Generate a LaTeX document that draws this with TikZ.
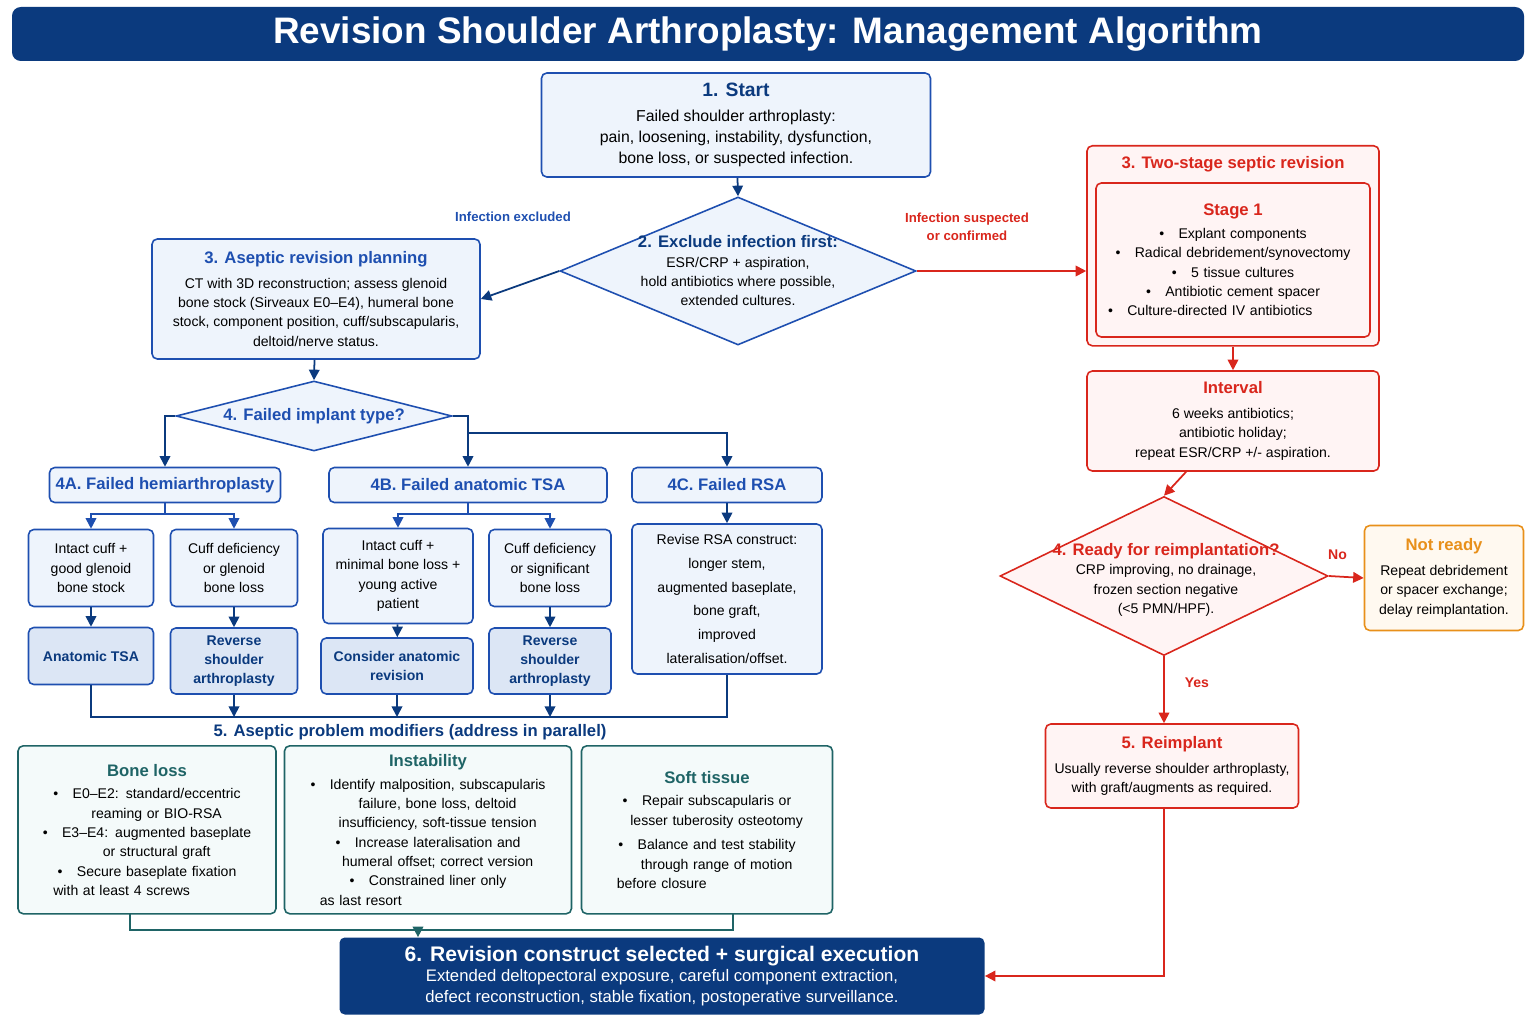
\documentclass[tikz,border=0pt]{standalone}
\usepackage{fontspec}
\setmainfont{Liberation Sans}
\usetikzlibrary{shapes.geometric,arrows.meta,calc}
\definecolor{navy}{HTML}{0B3A7E}
\definecolor{aseb}{HTML}{1E4FB0}
\definecolor{asef}{HTML}{EEF4FC}
\definecolor{ased}{HTML}{DCE6F5}
\definecolor{sepr}{HTML}{D9261C}
\definecolor{sepf}{HTML}{FFF4F4}
\definecolor{teal}{HTML}{1F6466}
\definecolor{tealf}{HTML}{F4FAFA}
\definecolor{orng}{HTML}{E8901A}
\definecolor{orngf}{HTML}{FFF9F0}
\newcommand{\bl}[1]{\makebox[11pt][l]{\textbullet}#1}
\newcommand{\cl}[1]{\hspace*{11pt}#1}
\newcommand{\hdf}{\fontsize{9.5}{12}\selectfont\bfseries}
\tikzset{
 sz/.style 2 args={minimum width=#1*0.02cm, minimum height=#2*0.02cm},
 box/.style={draw=aseb, fill=asef, rounded corners=3pt, line width=0.9pt, align=center, inner sep=2pt, font=\fontsize{8}{11}\selectfont},
 rbox/.style={box, draw=sepr, fill=sepf},
 tbox/.style={box, draw=teal, fill=tealf, align=left, anchor=north},
 dia/.style={diamond, draw=#1, line width=0.9pt, inner sep=0pt},
 arr/.style={draw=aseb, line width=1pt, -{Triangle[length=6pt,width=6pt]}},
 rarr/.style={arr, draw=sepr},
 tarr/.style={arr, draw=teal},
 hd/.style={font=\hdf},
}
\begin{document}
\begin{tikzpicture}[x=0.02cm,y=-0.02cm]
 \useasboundingbox (0,0) rectangle (1536,1024);
 % title bar
 \node[fill=navy, rounded corners=5pt, sz={1512}{54}, text=white, font=\fontsize{21}{24}\selectfont\bfseries] (title) at (768,34) {Revision Shoulder Arthroplasty: Management Algorithm};

 % aseptic branch
 \node[box, sz={389}{104}, font=\fontsize{9}{12}\selectfont] (start) at (736,125) {{\fontsize{11}{13}\selectfont\bfseries\color{navy}1. Start}\\[2pt]Failed shoulder arthroplasty:\\pain, loosening, instability, dysfunction,\\bone loss, or suspected infection.};
 \node[dia=aseb, fill=asef, sz={356}{148}] (dinf) at (738,271) {};
 \node[align=center, font=\fontsize{8}{11}\selectfont] (dinft) at (738,271) {{\hdf\color{navy}2. Exclude infection first:}\\ESR/CRP + aspiration,\\hold antibiotics where possible,\\extended cultures.};
 \node[text=aseb, font=\fontsize{7.5}{9}\selectfont\bfseries] (lexc) at (513,217) {Infection excluded};
 \node[text=sepr, font=\fontsize{7.5}{10.5}\selectfont\bfseries, align=center] (lsus) at (967,227) {Infection suspected\\or confirmed};
 \node[box, sz={328}{120}] (plan) at (316,299) {{\hdf\color{aseb}3. Aseptic revision planning}\\[3pt]CT with 3D reconstruction; assess glenoid\\bone stock (Sirveaux E0--E4), humeral bone\\stock, component position, cuff/subscapularis,\\deltoid/nerve status.};
 \node[dia=aseb, fill=asef, sz={276}{70}] (dtype) at (314,416) {};
 \node[hd, text=aseb] (dtypet) at (314,416) {4. Failed implant type?};
 \node[box, sz={231}{35}, hd, text=aseb] (fa) at (165,485) {4A. Failed hemiarthroplasty};
 \node[box, sz={278}{35}, hd, text=aseb] (fb) at (468,485) {4B. Failed anatomic TSA};
 \node[box, sz={190}{35}, hd, text=aseb] (fc) at (727,485) {4C. Failed RSA};
 \node[box, sz={125}{77}] (a1) at (91,568) {Intact cuff +\\good glenoid\\bone stock};
 \node[box, sz={127}{77}] (a2) at (234,568) {Cuff deficiency\\or glenoid\\bone loss};
 \node[box, sz={150}{95}] (b1) at (398,576) {Intact cuff +\\minimal bone loss +\\young active\\patient};
 \node[box, sz={122}{77}] (b2) at (550,568) {Cuff deficiency\\or significant\\bone loss};
 \node[box, sz={190}{150}, font=\fontsize{8}{13.5}\selectfont] (c1) at (727,599) {Revise RSA construct:\\longer stem,\\augmented baseplate,\\bone graft,\\improved\\lateralisation/offset.};
 \node[box, fill=ased, sz={125}{57}, font=\fontsize{8}{11}\selectfont\bfseries, text=navy] (a1r) at (91,656) {Anatomic TSA};
 \node[box, fill=ased, sz={127}{66}, font=\fontsize{8}{11}\selectfont\bfseries, text=navy] (a2r) at (234,661) {Reverse\\shoulder\\arthroplasty};
 \node[box, fill=ased, sz={152}{56}, font=\fontsize{8}{11}\selectfont\bfseries, text=navy] (b1r) at (397,666) {Consider anatomic\\revision};
 \node[box, fill=ased, sz={122}{66}, font=\fontsize{8}{11}\selectfont\bfseries, text=navy] (b2r) at (550,661) {Reverse\\shoulder\\arthroplasty};
 \node[hd, text=navy] (mods) at (410,732) {5. Aseptic problem modifiers (address in parallel)};
 \node[tbox, sz={258}{168}, text width=226*0.02cm] (bone) at (147,745) {\centering{\hdf\color{teal}Bone loss}\par\vspace{2pt}
  \bl{E0--E2: standard/eccentric}\\\cl{reaming or BIO-RSA}\\\bl{E3--E4: augmented baseplate}\\\cl{or structural graft}\\\bl{Secure baseplate fixation}\\\cl{with at least 4 screws}};
 \node[tbox, sz={287}{168}, text width=255*0.02cm] (inst) at (428,745) {\centering{\hdf\color{teal}Instability}\par\vspace{2pt}
  \bl{Identify malposition, subscapularis}\\\cl{failure, bone loss, deltoid}\\\cl{insufficiency, soft-tissue tension}\\\bl{Increase lateralisation and}\\\cl{humeral offset; correct version}\\\bl{Constrained liner only}\\\cl{as last resort}};
 \node[tbox, sz={251}{168}, text width=219*0.02cm] (soft) at (707,745) {\centering{\hdf\color{teal}Soft tissue}\par\vspace{2pt}
  \bl{Repair subscapularis or}\\\cl{lesser tuberosity osteotomy}\\[3pt]\bl{Balance and test stability}\\\cl{through range of motion}\\\cl{before closure}};
 \node[fill=navy, rounded corners=3pt, sz={645}{77}, text=white, align=center, font=\fontsize{9.5}{11.5}\selectfont] (exec) at (662,976) {{\fontsize{12}{14}\selectfont\bfseries 6. Revision construct selected + surgical execution}\\Extended deltopectoral exposure, careful component extraction,\\defect reconstruction, stable fixation, postoperative surveillance.};

 % septic branch
 \node[rbox, sz={292}{200}, anchor=north] (sep) at (1233,145) {};
 \node[hd, text=sepr] (sept) at (1233,164) {3. Two-stage septic revision};
 \node[rbox, sz={274}{154}, align=left, text width=250*0.02cm] (stg) at (1233,260) {\centering{\hdf\color{sepr}Stage 1}\par\vspace{2pt}
  \bl{Explant components}\\\bl{Radical debridement/synovectomy}\\\bl{5 tissue cultures}\\\bl{Antibiotic cement spacer}\\\bl{Culture-directed IV antibiotics}};
 \node[rbox, sz={292}{100}] (intv) at (1233,421) {{\hdf\color{sepr}Interval}\\[3pt]6 weeks antibiotics;\\antibiotic holiday;\\repeat ESR/CRP +/- aspiration.};
 \node[dia=sepr, fill=sepf, sz={328}{159}] (drdy) at (1164,576) {};
 \node[align=center, font=\fontsize{8}{11}\selectfont] (drdyt) at (1166,580) {{\hdf\color{sepr}4. Ready for reimplantation?}\\CRP improving, no drainage,\\frozen section negative\\(<5 PMN/HPF).};
 \node[box, draw=orng, fill=orngf, sz={159}{105}] (nrdy) at (1444,578) {{\hdf\color{orng}Not ready}\\[3pt]Repeat debridement\\or spacer exchange;\\delay reimplantation.};
 \node[rbox, sz={253}{84}] (reimp) at (1172,766) {{\hdf\color{sepr}5. Reimplant}\\[3pt]Usually reverse shoulder arthroplasty,\\with graft/augments as required.};

 % connectors
 \draw[arr, draw=navy] (start) -- (dinf.north);
 \draw[arr, draw=navy] (dinf.west) -- (plan.east);
 \draw[rarr] (dinf.east) -- (sep.west |- dinf.east);
 \draw[arr, draw=navy] (plan) -- (dtype.north);
 \draw[arr, draw=navy] (dtype.west) -| (fa.north);
 \draw[arr, draw=navy] (dtype.east) -| (fb.north);
 \coordinate (jc) at (468,433);
 \draw[arr, draw=navy] (jc) -| (fc.north);
 \foreach \p/\l/\r in {fa/a1/a2, fb/b1/b2}{
  \coordinate (j\p) at ($(\p.south)+(0,11)$);
  \draw[arr] (\p.south) -- (j\p) -| (\l.north);
  \draw[arr] (j\p) -| (\r.north);
 }
 \foreach \u/\v in {a1/a1r, a2/a2r, b1/b1r, b2/b2r, fc/c1}
  \draw[arr, draw=navy] (\u) -- (\v);
 \coordinate (bus) at (90,717);
 \draw[draw=navy, line width=1pt] (a1r.south) |- (bus) -| (c1.south);
 \foreach \u in {a2r, b1r, b2r}
  \draw[arr, draw=navy] (\u.south) -- (\u.south |- bus);
 \coordinate (tj) at (418,930);
 \draw[draw=teal, line width=1pt] (130,913) |- (tj) -| (733,913);
 \draw[tarr] (tj) -- (exec.north -| tj);
 \draw[rarr] (sep) -- (intv);
 \draw[rarr] (intv) -- (drdy.north);
 \draw[rarr] (drdy.east) -- node[above=6pt, pos=0.25, font=\fontsize{8}{10}\selectfont\bfseries, text=sepr] {No} (nrdy.west);
 \draw[rarr] (drdy.south) -- node[right=8pt, pos=0.4, font=\fontsize{8}{10}\selectfont\bfseries, text=sepr] {Yes} (reimp.north -| drdy.south);
 \draw[rarr] (reimp.south -| drdy.south) |- (exec.east);
\end{tikzpicture}
\end{document}
